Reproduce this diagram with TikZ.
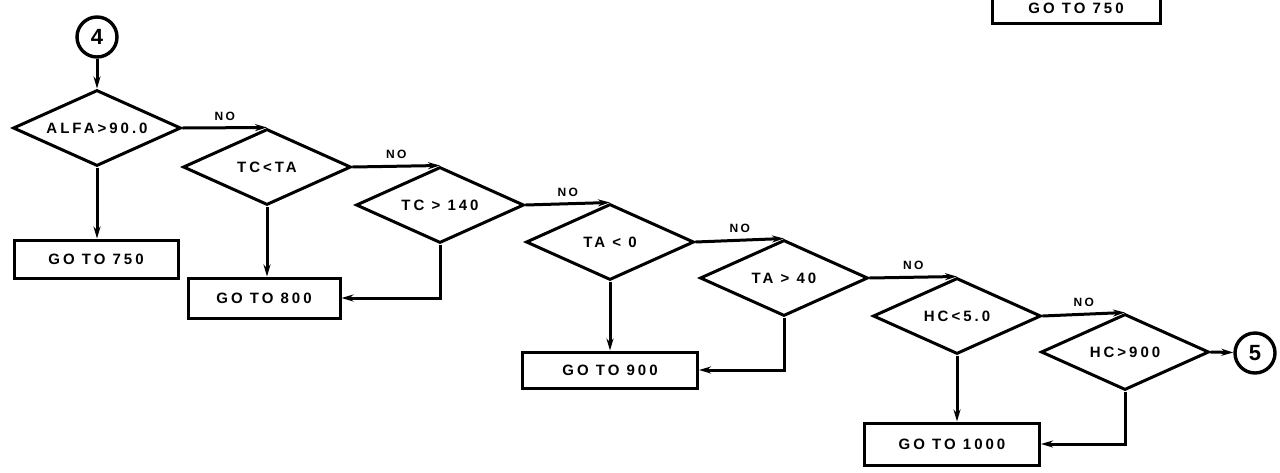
\documentclass[tikz,border=0pt]{standalone}
\usepackage{fontspec}
\newfontfamily\handfont[LetterSpace=20]{Liberation Sans}
\usetikzlibrary{arrows.meta,shapes.geometric}

\begin{document}
\begin{tikzpicture}[font=\handfont\bfseries\fontsize{7.5}{8.5}\selectfont,>={Stealth[length=6pt,width=3.5pt]},x=0.5pt,y=-0.5pt,
  decision/.style={diamond,shape aspect=2.2,draw=black,line width=1.5pt,minimum width=84pt,minimum height=38pt,inner sep=0pt},
  gobox/.style={rectangle,draw=black,line width=1.5pt,inner sep=0pt},
  connector/.style={circle,draw=black,line width=1.7pt,minimum size=20pt,inner sep=0pt,font=\handfont\bfseries\fontsize{11}{12}\selectfont},
  flow/.style={->,draw=black,line width=1.5pt},
  nolabel/.style={above,font=\handfont\bfseries\fontsize{6}{7}\selectfont,inner sep=3pt}]
\useasboundingbox (0,0) rectangle (1280,472);
% connectors in and out
\node[connector] (c4) at (97,37) {4};
\node[connector] (c5) at (1255,353) {5};
% decisions
\node[decision] (d1) at (97,128) {ALFA>90.0};
\node[decision] (d2) at (267,167) {TC<TA};
\node[decision] (d3) at (440,205) {TC > 140};
\node[decision] (d4) at (610,242) {TA < 0};
\node[decision] (d5) at (784,278) {TA > 40};
\node[decision] (d6) at (957,316) {HC<5.0};
\node[decision] (d7) at (1125,352) {HC>900};
% jumps
\node[gobox,minimum width=82pt,minimum height=19pt] (b750) at (96,259) {GO TO 750};
\node[gobox,minimum width=76pt,minimum height=20pt] (b800) at (264,298) {GO TO 800};
\node[gobox,minimum width=87.5pt,minimum height=18pt] (b900) at (610,370) {GO TO 900};
\node[gobox,minimum width=87.5pt,minimum height=21pt] (b1000) at (952,444) {GO TO 1000};
\node[gobox,minimum width=84pt,minimum height=15pt] (btop) at (1076,8) {GO TO 750};
% flow
\draw[flow] (c4) -- (d1.north);
\draw[flow] (d1.east) -- node[nolabel] {NO} (d2.north);
\draw[flow] (d2.east) -- node[nolabel] {NO} (d3.north);
\draw[flow] (d3.east) -- node[nolabel] {NO} (d4.north);
\draw[flow] (d4.east) -- node[nolabel] {NO} (d5.north);
\draw[flow] (d5.east) -- node[nolabel] {NO} (d6.north);
\draw[flow] (d6.east) -- node[nolabel] {NO} (d7.north);
\draw[flow] (d7.east) -- (c5);
\draw[flow] (d1.south) -- (d1.south |- b750.north);
\draw[flow] (d2.south) -- (d2.south |- b800.north);
\draw[flow] (d3.south) |- (b800.east);
\draw[flow] (d4.south) -- (d4.south |- b900.north);
\draw[flow] (d5.south) |- (b900.east);
\draw[flow] (d6.south) -- (d6.south |- b1000.north);
\draw[flow] (d7.south) |- (b1000.east);
\end{tikzpicture}
\end{document}
